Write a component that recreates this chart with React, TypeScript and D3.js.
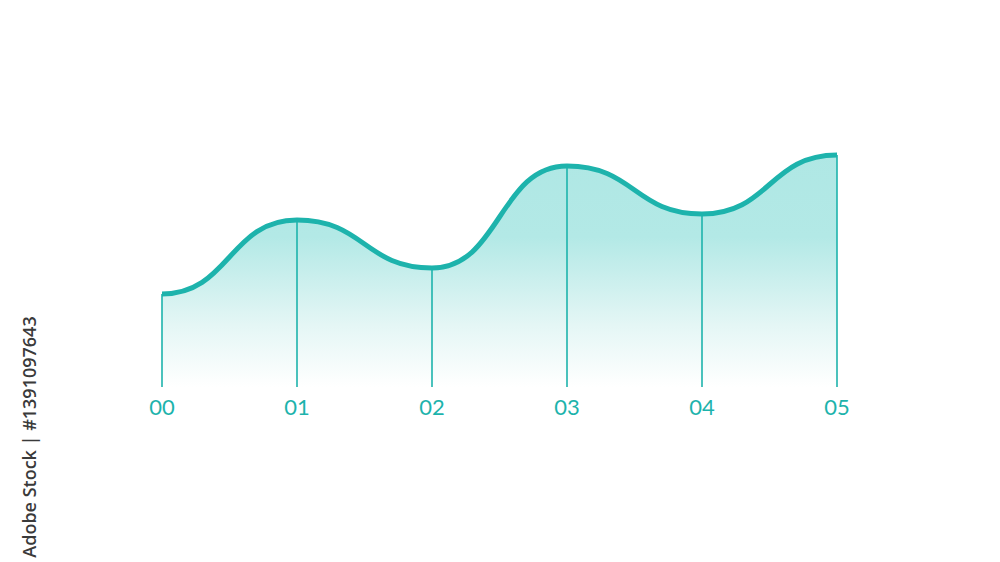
import React from "react";
import * as d3 from "d3";

const categories = ["00", "01", "02", "03", "04", "05"];
const values = [93, 167, 119, 221, 173, 232];
const sideText = "Adobe Stock | #1391097643";

const W = 1000;
const H = 562;
const TEAL = "#1db3ac";

export default function App() {
  const x = d3.scalePoint<string>().domain(categories).range([162, 837]);
  const y = d3.scaleLinear().domain([0, 250]).range([387, 137]);

  const pts: [number, number][] = categories.map((c, i) => [x(c) as number, y(values[i])]);

  const line = d3.line<[number, number]>().x(d => d[0]).y(d => d[1]).curve(d3.curveBumpX);
  const area = d3
    .area<[number, number]>()
    .x(d => d[0])
    .y0(y(0))
    .y1(d => d[1])
    .curve(d3.curveBumpX);

  return (
    <svg
      width={W}
      height={H}
      viewBox={`0 0 ${W} ${H}`}
      style={{ position: "absolute", left: 0, top: 0, background: "#ffffff" }}
    >
      <defs>
        <linearGradient id="fillGrad" x1="0" y1={y(250)} x2="0" y2={y(0)} gradientUnits="userSpaceOnUse">
          <stop offset="0%" stopColor="#aee7e4" />
          <stop offset="40%" stopColor="#b3e9e6" />
          <stop offset="75%" stopColor="#e4f6f5" />
          <stop offset="100%" stopColor="#ffffff" />
        </linearGradient>
      </defs>
      <rect x={0} y={0} width={W} height={H} fill="#ffffff" />
      <path d={area(pts) || ""} fill="url(#fillGrad)" />
      {pts.map((p, i) => (
        <line
          key={"v" + i}
          x1={p[0]}
          x2={p[0]}
          y1={p[1]}
          y2={y(0)}
          stroke={TEAL}
          strokeWidth={1.6}
        />
      ))}
      <path d={line(pts) || ""} fill="none" stroke={TEAL} strokeWidth={5} strokeLinecap="butt" />
      {categories.map(c => (
        <text
          key={c}
          x={x(c) as number}
          y={415}
          textAnchor="middle"
          fill={TEAL}
          fontFamily="Lato, 'Open Sans', sans-serif"
          fontWeight={400}
          fontSize={22}
        >
          {c}
        </text>
      ))}
      <text
        transform="translate(36, 437) rotate(-90)"
        textAnchor="middle"
        fill="#3a3a3a"
        fontFamily="'Open Sans', 'DejaVu Sans', sans-serif"
        fontWeight={600}
        fontSize={18}
      >
        {sideText}
      </text>
    </svg>
  );
}
